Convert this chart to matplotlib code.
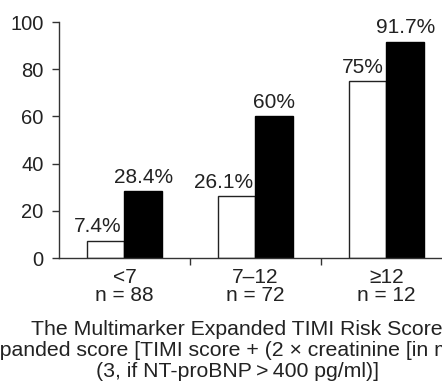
import matplotlib
matplotlib.use("Agg")
import matplotlib.pyplot as plt
import numpy as np

plt.rcParams["font.family"] = ["Liberation Sans", "DejaVu Sans"]

categories = ["<7\nn = 88", "7\u201312\nn = 72", "\u226512\nn = 12"]
white_vals = [7.4, 26.1, 75]
black_vals = [28.4, 60, 91.7]
white_labels = ["7.4%", "26.1%", "75%"]
black_labels = ["28.4%", "60%", "91.7%"]
xlabel = ("The Multimarker Expanded TIMI Risk Score\n"
          "Expanded score [TIMI score + (2 \u00d7 creatinine [in mg/dl])\n"
          "(3, if NT-proBNP\u2009>\u2009400 pg/ml)]")

fig = plt.figure(figsize=(4.42, 3.84), dpi=100)
ax = fig.add_axes([59 / 442, 1 - 258 / 384, 393 / 442, 236 / 384])

x = np.arange(len(categories))
w = 0.29
ax.bar(x - w / 2, white_vals, w, color="white", edgecolor="#222222", linewidth=1.0)
ax.bar(x + w / 2, black_vals, w, color="black", edgecolor="black", linewidth=1.0)

for xi, v, lab in zip(x, white_vals, white_labels):
    ax.annotate(lab, (xi - 0.02, v), xytext=(0, 3), textcoords="offset points",
                ha="right", va="bottom", fontsize=15, color="#222222")
for xi, v, lab in zip(x, black_vals, black_labels):
    ax.annotate(lab, (xi + w / 2, v), xytext=(0, 3), textcoords="offset points",
                ha="center", va="bottom", fontsize=15, color="#222222")

ax.set_xlim(-0.5, 2.5)
ax.set_ylim(0, 100)
ax.set_yticks([0, 20, 40, 60, 80, 100])
ax.set_xticks(x)
ax.set_xticklabels(categories, fontsize=15, color="#222222", linespacing=0.95)
ax.set_xticks([0.5, 1.5], minor=True)
ax.tick_params(axis="x", which="major", length=0, pad=7)
ax.tick_params(axis="x", which="minor", length=5, width=1, color="#333333", direction="out")
ax.tick_params(axis="y", length=5, width=1, color="#333333", labelsize=14.5,
               labelcolor="#222222", pad=6)

for s in ["top", "right"]:
    ax.spines[s].set_visible(False)
for s in ["left", "bottom"]:
    ax.spines[s].set_color("#333333")
    ax.spines[s].set_linewidth(1)

fig.text(237 / 442, 1 - 320 / 384, xlabel, ha="center", va="top", fontsize=15.3,
         color="#222222", linespacing=1.12)

fig.savefig("out.png", dpi=100)
